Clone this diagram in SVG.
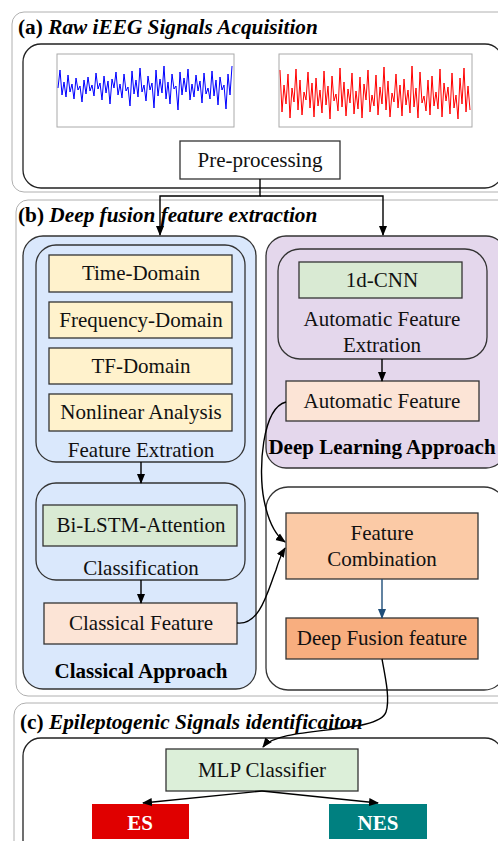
<svg xmlns="http://www.w3.org/2000/svg" width="498" height="841" viewBox="0 0 498 841">
<defs>
<marker id="ah" markerWidth="10" markerHeight="10" refX="9" refY="5" orient="auto" markerUnits="userSpaceOnUse"><path d="M0,1 L10,5 L0,9 z" fill="#000"/></marker>
<marker id="ahb" markerWidth="10" markerHeight="10" refX="9" refY="5" orient="auto" markerUnits="userSpaceOnUse"><path d="M0,1 L10,5 L0,9 z" fill="#1f4e79"/></marker>
<style>
.panel{fill:#fff;stroke:#b0b0b0;stroke-width:1}
.frame{fill:none;stroke:#222;stroke-width:1.3}
.box{stroke:#333;stroke-width:1.3}
.t{font-family:"Liberation Serif",serif;font-size:21px;fill:#111;text-anchor:middle}
.h{font-family:"Liberation Serif",serif;font-size:21.3px;font-weight:bold;fill:#000}
.b{font-family:"Liberation Serif",serif;font-size:21px;font-weight:bold;fill:#000;text-anchor:middle}
.c{fill:none;stroke:#000;stroke-width:1.4}
</style>
</defs>
<g id="panel-a">
<rect class="panel" x="12" y="12" width="500" height="180" rx="12"/>
<text class="h" x="18" y="34">(a) <tspan font-style="italic">Raw iEEG Signals Acquisition</tspan></text>
<rect class="frame" x="23" y="44" width="480" height="144" rx="18"/>
</g>
<g id="signal-blue">
<rect x="57" y="54" width="177" height="73" fill="#fff" stroke="#aaa" stroke-width="1"/>
<polyline fill="none" stroke="#0000ff" stroke-width="1" points="58,88 60,70 62,95 64,82 66,97 68,75 70,92 72,84 74,99 76,78 78,90 80,86 82,102 84,80 86,94 88,77 90,91 92,85 94,96 96,73 98,89 100,83 102,100 104,76 106,93 108,81 110,104 112,79 114,88 116,72 118,95 120,84 122,98 124,74 126,91 128,87 130,106 132,71 134,94 136,80 138,97 140,68 142,92 144,85 146,101 148,76 150,90 152,83 154,108 156,70 158,96 160,79 162,93 164,66 166,99 168,82 170,104 172,74 174,89 176,86 178,110 180,72 182,95 184,78 186,92 188,69 190,100 192,84 194,97 196,75 198,91 200,81 202,103 204,73 206,94 208,88 210,99 212,71 214,96 216,80 218,105 220,77 222,90 224,85 226,109 228,74 230,95 232,66"/>
</g>
<g id="signal-red">
<rect x="279" y="54" width="193" height="73" fill="#fff" stroke="#aaa" stroke-width="1"/>
<polyline fill="none" stroke="#ff0000" stroke-width="1" points="280,70 282,112 284,85 286,104 288,74 290,118 292,88 294,102 296,69 298,110 300,80 302,115 304,92 306,100 308,72 310,108 312,83 314,117 316,78 318,106 320,90 322,113 324,71 326,105 328,86 330,119 332,76 334,101 336,94 338,111 340,68 342,107 344,82 346,116 348,89 350,103 352,73 354,114 356,91 358,109 360,77 362,118 364,84 366,100 368,70 370,112 372,95 374,106 376,75 378,115 380,87 382,104 384,67 386,110 388,81 390,117 392,93 394,102 396,74 398,108 400,85 402,116 404,79 406,105 408,90 410,113 412,66 414,107 416,88 418,118 420,72 422,103 424,96 426,111 428,80 430,115 432,76 434,106 436,92 438,109 440,69 442,117 444,83 446,101 448,87 450,114 452,73 454,108 456,95 458,119 460,78 462,104 464,68 466,112 468,86 470,110"/>
</g>
<g id="preprocessing">
<rect class="box" x="180" y="141" width="160" height="38" fill="#fff"/>
<text class="t" x="260" y="167">Pre-processing</text>
</g>
<g id="panel-b">
<rect class="panel" x="16" y="200" width="500" height="496" rx="12"/>
<text class="h" x="18" y="222">(b) <tspan font-style="italic">Deep fusion feature extraction</tspan></text>
</g>
<g id="classical-approach">
<rect class="box" x="23" y="236" width="233" height="453" rx="20" fill="#dae8fc"/>
<text class="b" x="141" y="678">Classical Approach</text>
</g>
<g id="feature-extraction">
<rect class="box" x="36" y="245" width="209" height="217" rx="20" fill="#dae8fc"/>
<text class="t" x="141" y="457">Feature Extration</text>
</g>
<g id="time-domain"><rect class="box" x="49" y="255" width="183" height="37" fill="#fff2cc"/><text class="t" x="141" y="280">Time-Domain</text></g>
<g id="frequency-domain"><rect class="box" x="49" y="302" width="183" height="36" fill="#fff2cc"/><text class="t" x="141" y="327">Frequency-Domain</text></g>
<g id="tf-domain"><rect class="box" x="49" y="348" width="183" height="36" fill="#fff2cc"/><text class="t" x="141" y="373">TF-Domain</text></g>
<g id="nonlinear"><rect class="box" x="49" y="394" width="183" height="37" fill="#fff2cc"/><text class="t" x="141" y="419">Nonlinear Analysis</text></g>
<g id="classification">
<rect class="box" x="36" y="483" width="209" height="97" rx="20" fill="#dae8fc"/>
<text class="t" x="141" y="575">Classification</text>
</g>
<g id="bilstm"><rect class="box" x="43" y="505" width="194" height="41" fill="#d9ead3"/><text class="t" x="141" y="532">Bi-LSTM-Attention</text></g>
<g id="classical-feature"><rect class="box" x="44" y="603" width="193" height="41" fill="#fce4d6"/><text class="t" x="141" y="630">Classical Feature</text></g>
<g id="deep-learning-approach">
<rect class="box" x="266" y="236" width="240" height="232" rx="20" fill="#e4d7ec"/>
<text class="b" x="382" y="454">Deep Learning Approach</text>
</g>
<g id="automatic-feature-extraction">
<rect class="box" x="278" y="249" width="209" height="110" rx="22" fill="#e4d7ec"/>
<text class="t" x="382" y="326">Automatic Feature</text>
<text class="t" x="382" y="352">Extration</text>
</g>
<g id="cnn"><rect class="box" x="299" y="262" width="163" height="36" fill="#d9ead3"/><text class="t" x="382" y="287">1d-CNN</text></g>
<g id="automatic-feature"><rect class="box" x="286" y="381" width="193" height="40" fill="#fce4d6"/><text class="t" x="382" y="408">Automatic Feature</text></g>
<g id="fusion-frame"><rect class="box" x="266" y="487" width="240" height="203" rx="22" fill="#fff"/></g>
<g id="feature-combination">
<rect class="box" x="286" y="513" width="192" height="66" fill="#fbcaa6"/>
<text class="t" x="382" y="540">Feature</text>
<text class="t" x="382" y="566">Combination</text>
</g>
<g id="deep-fusion-feature"><rect class="box" x="286" y="618" width="192" height="41" fill="#f8ae7f"/><text class="t" x="382" y="645">Deep Fusion feature</text></g>
<g id="panel-c">
<rect class="panel" x="14" y="703" width="500" height="160" rx="12"/>
<text class="h" x="20" y="729">(c) <tspan font-style="italic">Epileptogenic Signals identificaiton</tspan></text>
<rect class="frame" x="23" y="738" width="480" height="120" rx="18"/>
</g>
<g id="mlp"><rect class="box" x="166" y="749" width="192" height="42" fill="#dcefd9"/><text class="t" x="262" y="777">MLP Classifier</text></g>
<g id="es"><rect x="92" y="804" width="97" height="35" fill="#e00000"/><text class="b" x="140" y="830" style="fill:#fff">ES</text></g>
<g id="nes"><rect x="329" y="804" width="98" height="35" fill="#008080"/><text class="b" x="378" y="830" style="fill:#fff">NES</text></g>
<g id="connectors">
<polyline class="c" points="260,179 260,196 160,196 160,235" marker-end="url(#ah)"/>
<polyline class="c" points="260,196 383,196 383,235" marker-end="url(#ah)"/>
<line class="c" x1="141" y1="462" x2="141" y2="483" marker-end="url(#ah)"/>
<line class="c" x1="141" y1="580" x2="141" y2="603" marker-end="url(#ah)"/>
<line class="c" x1="382" y1="359" x2="382" y2="381" marker-end="url(#ah)"/>
<path class="c" d="M286,402 C262,408 258,470 264,500 C268,520 275,535 285,542" marker-end="url(#ah)"/>
<path class="c" d="M237,623 C260,626 268,590 276,570 C279,560 282,553 285,548" marker-end="url(#ah)"/>
<line x1="382" y1="579" x2="382" y2="618" stroke="#1f4e79" stroke-width="1.4" marker-end="url(#ahb)"/>
<path class="c" d="M382,659 C386,680 390,700 386,712 C378,735 280,725 263,747" marker-end="url(#ah)"/>
<line class="c" x1="262" y1="791" x2="143" y2="803" marker-end="url(#ah)"/>
<line class="c" x1="262" y1="791" x2="378" y2="803" marker-end="url(#ah)"/>
</g>
</svg>
